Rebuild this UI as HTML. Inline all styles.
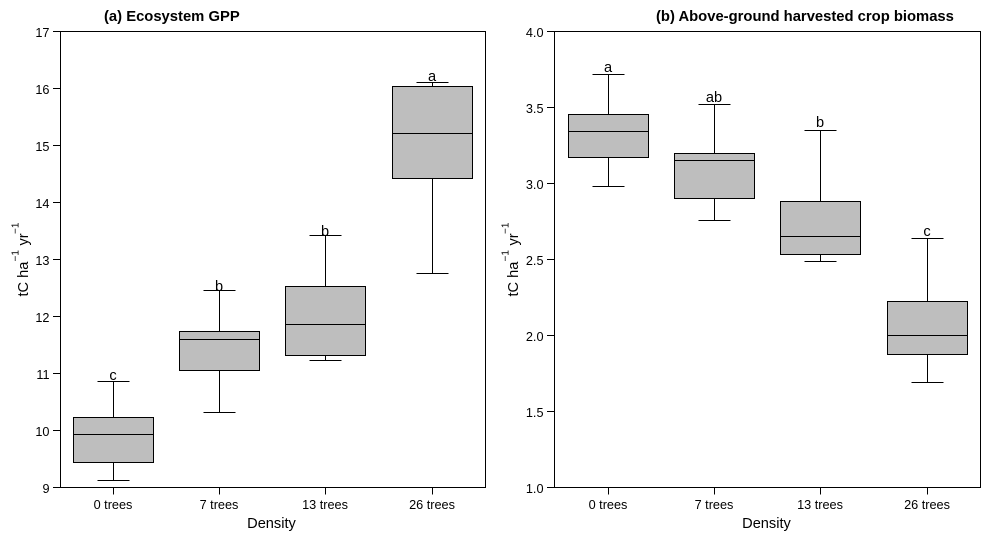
<!DOCTYPE html>
<html>
<head>
<meta charset="utf-8">
<style>
html,body{margin:0;padding:0;background:#fff;width:991px;height:541px;overflow:hidden}
svg{display:block}
text{font-family:"Liberation Sans",Arial,sans-serif;fill:#000}
</style>
</head>
<body>
<svg id="chart" width="991" height="541" viewBox="0 0 991 541" xmlns="http://www.w3.org/2000/svg"></svg>
<script>
const categories = ['0 trees', '7 trees', '13 trees', '26 trees'];

const gppTitle = '(a) Ecosystem GPP';
const gppTicks = [9, 10, 11, 12, 13, 14, 15, 16, 17];
const gppTickLabels = ['9', '10', '11', '12', '13', '14', '15', '16', '17'];
const gppWhiskerLow = [9.12, 10.32, 11.23, 12.75];
const gppQ1 = [9.44, 11.05, 11.32, 14.42];
const gppMedian = [9.93, 11.60, 11.86, 15.21];
const gppQ3 = [10.23, 11.74, 12.53, 16.04];
const gppWhiskerHigh = [10.86, 12.46, 13.42, 16.11];
const gppLetters = ['c', 'b', 'b', 'a'];
const gppLetterValues = [10.88, 12.447, 13.41, 16.13];

const biomassTitle = '(b) Above-ground harvested crop biomass';
const biomassTicks = [1, 1.5, 2, 2.5, 3, 3.5, 4];
const biomassTickLabels = ['1.0', '1.5', '2.0', '2.5', '3.0', '3.5', '4.0'];
const biomassWhiskerLow = [2.98, 2.755, 2.49, 1.69];
const biomassQ1 = [3.17, 2.90, 2.53, 1.875];
const biomassMedian = [3.34, 3.15, 2.65, 2.00];
const biomassQ3 = [3.455, 3.20, 2.88, 2.225];
const biomassWhiskerHigh = [3.72, 3.52, 3.35, 2.64];
const biomassLetters = ['a', 'ab', 'b', 'c'];
const biomassLetterValues = [3.73, 3.533, 3.368, 2.651];

const svg = document.getElementById('chart');
const NS = 'http://www.w3.org/2000/svg';

function make(parent, tag, attrs, content) {
  const el = document.createElementNS(NS, tag);
  for (const k in attrs) el.setAttribute(k, attrs[k]);
  if (content !== undefined) el.textContent = content;
  parent.appendChild(el);
  return el;
}
function crisp(v) { return Math.floor(v) + 0.5; }
function line(parent, x1, y1, x2, y2) {
  return make(parent, 'line', {x1: x1, y1: y1, x2: x2, y2: y2, stroke: '#000', 'stroke-width': 1});
}

function drawPanel(cfg) {
  const L = cfg.left, R = cfg.right, T = 31.5, B = 487.5;
  const sx = i => crisp(cfg.firstX + i * 106.33);
  const sy = v => crisp(B - (v - cfg.min) / (cfg.max - cfg.min) * (B - T) + 0.001);

  const g = make(svg, 'g', {});
  
  

  const title = make(g, 'text', {x: cfg.titleX, y: 21, 'font-size': 14.8, 'font-weight': 'bold'}, cfg.title);
  
  

  const frame = make(g, 'rect', {x: L, y: T, width: R - L, height: B - T, fill: '#fff', stroke: '#000', 'stroke-width': 1});
  
  

  const yAxis = make(g, 'g', {});
  
  
  cfg.ticks.forEach((t, i) => {
    const y = sy(t);
    line(yAxis, L - 7.5, y, L, y);
    const lbl = make(yAxis, 'text', {x: L - 11, y: y + 5.5, 'font-size': 12.7, 'text-anchor': 'end'}, cfg.tickLabels[i]);
    
    
  });

  const yTitle = make(g, 'text', {transform: 'translate(' + cfg.yTitleX + ',296.5) rotate(-90)', 'font-size': 14.6});
  
  
  make(yTitle, 'tspan', {x: 0, y: 0}, 'tC ha');
  make(yTitle, 'tspan', {x: 35, y: -9.5, 'font-size': 10}, '\u22121');
  make(yTitle, 'tspan', {x: 51, y: 0}, 'yr');
  make(yTitle, 'tspan', {x: 62.5, y: -9.5, 'font-size': 10}, '\u22121');

  const xAxis = make(g, 'g', {});
  
  
  categories.forEach((c, i) => {
    const x = sx(i);
    line(xAxis, x, B, x, B + 7);
    const lbl = make(xAxis, 'text', {x: x - 0.5, y: 509, 'font-size': 12.7, 'text-anchor': 'middle'}, c);
    
    
  });
  const xTitle = make(g, 'text', {x: cfg.xTitleX, y: 528, 'font-size': 14.6, 'text-anchor': 'middle'}, 'Density');
  
  

  categories.forEach((c, i) => {
    const x = sx(i);
    const box = make(g, 'g', {});
    
    
    line(box, x, sy(cfg.q3[i]), x, sy(cfg.high[i]));
    line(box, x, sy(cfg.low[i]), x, sy(cfg.q1[i]));
    line(box, x - 16, sy(cfg.high[i]), x + 16, sy(cfg.high[i]));
    line(box, x - 16, sy(cfg.low[i]), x + 16, sy(cfg.low[i]));
    make(box, 'rect', {x: x - 40, y: sy(cfg.q3[i]), width: 80, height: sy(cfg.q1[i]) - sy(cfg.q3[i]), fill: '#bebebe', stroke: '#000', 'stroke-width': 1});
    line(box, x - 40, sy(cfg.median[i]), x + 40, sy(cfg.median[i]));
    const letter = make(box, 'text', {x: x - 0.5, y: sy(cfg.letterValues[i]) - 0.5, 'font-size': 14.6, 'text-anchor': 'middle'}, cfg.letters[i]);
    
    
  });
}

drawPanel({
  name: 'gpp', left: 60.5, right: 485.5, firstX: 113.3, min: 9, max: 17, titleX: 104, yTitleX: 28, xTitleX: 271.5,
  title: gppTitle, ticks: gppTicks, tickLabels: gppTickLabels,
  low: gppWhiskerLow, q1: gppQ1, median: gppMedian, q3: gppQ3, high: gppWhiskerHigh,
  letters: gppLetters, letterValues: gppLetterValues
});
drawPanel({
  name: 'biomass', left: 554.5, right: 980.5, firstX: 608.1, min: 1, max: 4, titleX: 656, yTitleX: 518, xTitleX: 766.5,
  title: biomassTitle, ticks: biomassTicks, tickLabels: biomassTickLabels,
  low: biomassWhiskerLow, q1: biomassQ1, median: biomassMedian, q3: biomassQ3, high: biomassWhiskerHigh,
  letters: biomassLetters, letterValues: biomassLetterValues
});
</script>
</body>
</html>
